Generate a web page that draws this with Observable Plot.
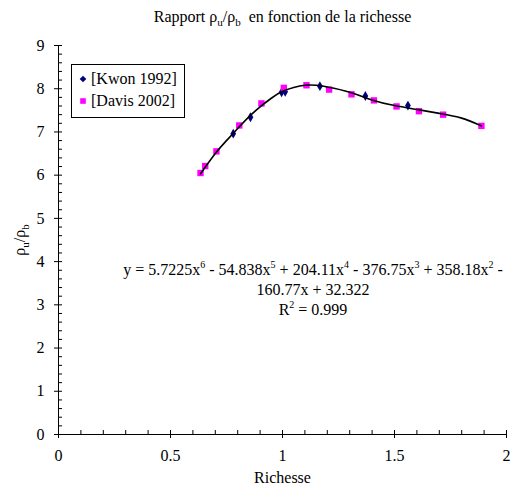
<!DOCTYPE html>
<html><head><meta charset="utf-8">
<script src="https://cdn.jsdelivr.net/npm/d3@7"></script>
<script src="https://cdn.jsdelivr.net/npm/@observablehq/plot@0.6"></script>
<style>
body{margin:0;background:#fff;font-family:'Liberation Serif',serif;}
#wrap{position:relative;width:525px;height:489px;}
#title{position:absolute;top:7px;left:0;width:565px;text-align:center;font-size:16px;color:#000;line-height:20px;}
#chart{position:absolute;top:30px;left:0;}
</style></head>
<body><div id="wrap"><div id="title">Rapport ρ<sub style="font-size:11px">u</sub>/ρ<sub style="font-size:11px">b</sub>&nbsp; en fonction de la richesse</div><div id="chart"></div></div>
<script>
const kwonX = [0.780, 0.857, 0.996, 1.012, 1.167, 1.370, 1.560];
const kwonY = [6.96, 7.34, 7.92, 7.93, 8.06, 7.83, 7.61];
const davisX = [0.634, 0.655, 0.705, 0.807, 0.906, 1.006, 1.107, 1.208, 1.308, 1.408, 1.509, 1.609, 1.717, 1.888];
const davisY = [6.05, 6.21, 6.55, 7.15, 7.66, 8.02, 8.08, 7.98, 7.87, 7.73, 7.59, 7.48, 7.40, 7.14];
const trendX = [0.634, 0.7, 0.75, 0.8, 0.85, 0.9, 0.95, 1.0, 1.05, 1.1, 1.15, 1.2, 1.3, 1.4, 1.5, 1.6, 1.7, 1.8, 1.888];
const trendY = [6.03, 6.50, 6.80, 7.08, 7.35, 7.58, 7.78, 7.94, 8.03, 8.08, 8.08, 8.04, 7.92, 7.74, 7.61, 7.52, 7.43, 7.32, 7.14];
const xMajor = [0, 0.5, 1, 1.5, 2];
const xMinor = d3.range(0, 21).map(i => i / 10);
const yMajor = d3.range(0, 10);
const yMinor = d3.range(0, 46).map(i => i / 5);

const kwon = kwonX.map((x, i) => ({x, y: kwonY[i]}));
const davis = davisX.map((x, i) => ({x, y: davisY[i]}));
const trend = trendX.map((x, i) => ({x, y: trendY[i]}));

const font = "'Liberation Serif', serif";
const plot = Plot.plot({
  width: 525, height: 459,
  marginLeft: 58, marginRight: 19, marginTop: 15, marginBottom: 55,
  style: {fontFamily: font, fontSize: "16px", color: "#000", background: "#fff"},
  x: {domain: [0, 2]},
  y: {domain: [0, 9]},
  marks: [
    Plot.ruleY([0], {stroke: "#000", strokeWidth: 1}),
    Plot.ruleX([0], {stroke: "#000", strokeWidth: 1}),
    Plot.axisX({ticks: xMajor, tickSize: 4, tickPadding: 11, tickFormat: d => String(d), label: null, fontSize: 16, stroke: "#000"}),
    Plot.axisX({ticks: xMinor, tickSize: 4, dy: -4, text: null, label: null, stroke: "#000"}),
    Plot.axisY({ticks: yMajor, tickSize: 4, tickPadding: 10, tickFormat: d => String(d), label: null, fontSize: 16, stroke: "#000"}),
    Plot.axisY({ticks: yMinor, tickSize: 4, dx: 4, text: null, label: null, stroke: "#000"}),
    Plot.dot(kwon, {x: "x", y: "y", symbol: "diamond", r: 3, fill: "#000080", stroke: "none"}),
    Plot.dot(davis, {x: "x", y: "y", symbol: "square", r: 3.6, fill: "#ff00ff", stroke: "none"}),
    Plot.line(trend, {x: "x", y: "y", curve: "natural", stroke: "#000", strokeWidth: 1.6}),
    Plot.text(["Richesse"], {frameAnchor: "bottom", dy: 48, text: d => d, fontSize: 16, fill: "#000"})
  ]
});
document.getElementById("chart").appendChild(plot);

const svg = d3.select(plot);
// y axis label with subscripts
const yl = svg.append("text").attr("transform", "translate(25,210) rotate(-90)")
  .attr("text-anchor", "middle").attr("font-size", 16).attr("fill", "#000");
yl.append("tspan").text("ρ");
yl.append("tspan").attr("font-size", 11).attr("dy", 4).text("u");
yl.append("tspan").attr("dy", -4).text("/ρ");
yl.append("tspan").attr("font-size", 11).attr("dy", 4).text("b");

// equation line 1 (superscripts as tspans)
const eqBase = ["y = 5.7225x", " - 54.838x", " + 204.11x", " - 376.75x", " + 358.18x", " -"];
const eqSup = ["6", "5", "4", "3", "2"];
const eq = svg.append("text").attr("x", 313).attr("y", 245).attr("text-anchor", "middle")
  .attr("font-size", 16).attr("fill", "#000");
eqBase.forEach((a, i) => {
  eq.append("tspan").attr("dy", i === 0 ? 0 : 7).text(a);
  if (i < eqSup.length) eq.append("tspan").attr("font-size", 10).attr("dy", -7).text(eqSup[i]);
});
svg.append("text").attr("x", 313).attr("y", 265).attr("text-anchor", "middle").attr("font-size", 16)
  .attr("fill", "#000").text("160.77x + 32.322");
const r2 = svg.append("text").attr("x", 313).attr("y", 285).attr("text-anchor", "middle").attr("font-size", 16)
  .attr("fill", "#000");
r2.append("tspan").text("R");
r2.append("tspan").attr("font-size", 10).attr("dy", -7).text("2");
r2.append("tspan").attr("dy", 7).text(" = 0.999");

// legend
const lg = svg.append("g");
lg.append("rect").attr("x", 71.5).attr("y", 34.5).attr("width", 113).attr("height", 53).attr("fill", "#fff").attr("stroke", "#000");
const entries = [["[Kwon 1992]", "#000080", d3.symbolDiamond2, 49], ["[Davis 2002]", "#ff00ff", d3.symbolSquare2, 71]];
entries.forEach(([t, c, sym, y]) => {
  lg.append("path").attr("transform", `translate(83,${y})`).attr("d", d3.symbol(sym, sym === d3.symbolSquare2 ? 40 : 28)()).attr("fill", c);
  lg.append("text").attr("x", 91).attr("y", y + 5).attr("text-anchor", "start").attr("font-size", 16).attr("fill", "#000").text(t);
});
</script></body></html>
